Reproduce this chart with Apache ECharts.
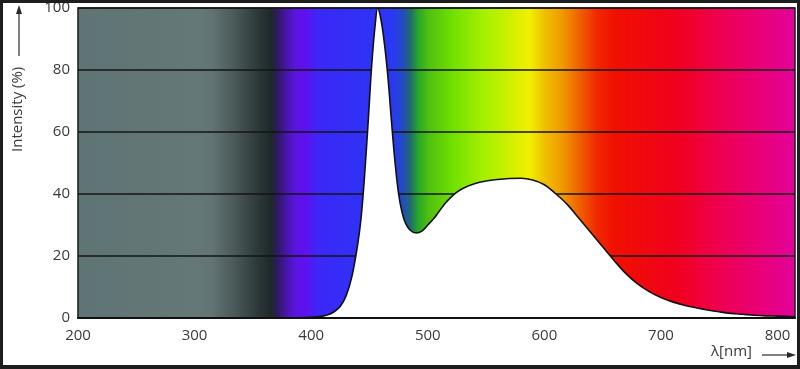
<!DOCTYPE html>
<html><head><meta charset="utf-8">
<script src="https://cdn.jsdelivr.net/npm/echarts@6/dist/echarts.min.js"></script>
<style>
html,body{margin:0;padding:0;background:#fff;}
#c{position:absolute;left:0;top:0;width:800px;height:369px;}
#frame{position:absolute;left:0;top:0;width:800px;height:369px;box-sizing:border-box;border:3px solid #1e1e1e;border-bottom-width:4px;pointer-events:none;}
</style></head>
<body><div id="c"></div><div id="frame"></div>
<script>
// wavelength (nm) and relative intensity (%)
const wavelength = [380,400,405,410,415,420,425,430,435,440,443,446,449,452,455,457,460,463,466,469,472,475,478,481,485,490,495,500,505,510,515,520,525,530,540,550,560,570,580,590,600,610,620,630,640,650,660,670,680,690,700,710,720,730,740,750,760,770,780,790,800,815];
const intensity  = [0,0.2,0.35,0.6,1.1,2.1,3.8,7.2,13.5,24,33,47,64,82,95,100,96,88,77,63,50,40,34,30.5,28.3,27.4,28,30,32,34.5,37,39,40.6,41.8,43.3,44.2,44.7,45,45.1,44.5,43,40,36.5,32,27.5,23,18.5,14.3,11,8.5,6.6,5.2,4.1,3.3,2.6,2.0,1.5,1.2,0.9,0.7,0.6,0.4];
const xTicks = [200,300,400,500,600,700,800];
const yTicks = [0,20,40,60,80,100];
// spectrum colours of the background, keyed by wavelength
const specNm  = [200,260,300,315,335,355,366,372,380,387,395,407,470,478,485,492,501,521,545,559,587,600,615,630,645,660,716,750,793,815];
const specCol = ['#5f7474','#627676','#657878','#627474','#4a5858','#2c3838','#1e2828','#30186a','#4a16b0','#5a14e0','#6010f0','#3a28f8','#2a38f4','#2448c8','#206a70','#28a828','#50c010','#70e000','#a0ee00','#b8f000','#f0f000','#f0c000','#f09a00','#f06000','#f02800','#f01000','#f00020','#ee0050','#e80080','#e0049c'];

const xMin = 200, xMax = 815;
const stops = specNm.map((n,i)=>({offset:(n-xMin)/(xMax-xMin), color:specCol[i]}));
const data = wavelength.map((w,i)=>[w,intensity[i]]);
const FONT = '"Open Sans", "DejaVu Sans", sans-serif';

const chart = echarts.init(document.getElementById('c'), null, {renderer:'canvas'});
chart.setOption({
  animation:false,
  grid:{left:78,top:8,right:5,bottom:51,show:true,
    backgroundColor:new echarts.graphic.LinearGradient(0,0,1,0,stops),
    borderColor:'#1a1a1a',borderWidth:1.5},
  xAxis:{type:'value',min:xMin,max:xMax,interval:100,z:3,
    axisLine:{show:true,lineStyle:{color:'#111',width:2}},
    axisTick:{show:false},splitLine:{show:false},
    axisLabel:{margin:10,fontSize:15,color:'#3a3a3a',fontFamily:FONT,
      formatter:v=>xTicks.includes(v)?String(v):'',showMaxLabel:false}},
  yAxis:{type:'value',min:0,max:100,interval:20,
    axisLine:{show:false},axisTick:{show:false},
    splitLine:{show:true,lineStyle:{color:'#151515',width:1.5}},
    axisLabel:{margin:8,fontSize:15,color:'#3a3a3a',fontFamily:FONT,
      formatter:v=>yTicks.includes(v)?String(v):''}},
  series:[{type:'line',data:data,smooth:0.35,symbol:'none',
    lineStyle:{color:'#111',width:1.6},
    areaStyle:{color:'#ffffff',opacity:1}}],
  graphic:[
    {type:'text',rotation:Math.PI/2,x:10,y:152,
      style:{text:'Intensity (%)',fontSize:15,fill:'#3a3a3a',fontFamily:FONT}},
    {type:'line',shape:{x1:19,y1:56,x2:19,y2:12},style:{stroke:'#2a2a2a',lineWidth:1.2}},
    {type:'polygon',shape:{points:[[19,5],[16,14],[22,14]]},style:{fill:'#2a2a2a'}},
    {type:'text',x:711,y:344,style:{text:'λ[nm]',fontSize:15,fill:'#3a3a3a',fontFamily:FONT}},
    {type:'line',shape:{x1:762,y1:355,x2:788,y2:355},style:{stroke:'#2a2a2a',lineWidth:1.2}},
    {type:'polygon',shape:{points:[[796,355],[787,352],[787,358]]},style:{fill:'#2a2a2a'}}
  ]
});
</script></body></html>
